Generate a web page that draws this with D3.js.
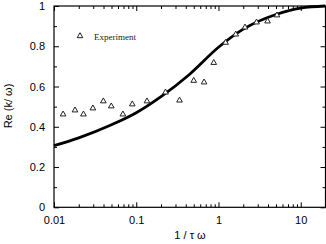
<!DOCTYPE html>
<html>
<head>
<meta charset="utf-8">
<script src="https://cdn.jsdelivr.net/npm/d3@7"></script>
<style>
  body { margin: 0; background: #fff; }
  svg { display: block; }
</style>
</head>
<body>
<svg id="chart" width="326" height="244"></svg>
<script>
// experiment points
const expX = [0.0129, 0.018, 0.0228, 0.0297, 0.0398, 0.0497, 0.0688, 0.0895, 0.135, 0.227,
  0.336, 0.50, 0.668, 0.875, 1.22, 1.62, 2.10, 2.90, 3.95, 5.14];
const expY = [0.462, 0.482, 0.462, 0.492, 0.527, 0.502, 0.462, 0.512, 0.527, 0.571,
  0.531, 0.629, 0.621, 0.718, 0.818, 0.859, 0.894, 0.919, 0.924, 0.954];

// theory curve
const curveX = [0.01, 0.02, 0.05, 0.1, 0.2, 0.443, 1, 2, 5, 10, 20];
const curveY = [0.306, 0.345, 0.41, 0.47, 0.55, 0.66, 0.795, 0.885, 0.958, 0.99, 1.0];

const xMajor = [0.01, 0.1, 1, 10];
const xMajorLabels = ["0.01", "0.1", "1", "10"];
const yMajor = [0, 0.2, 0.4, 0.6, 0.8, 1];
const yMajorLabels = ["0", "0.2", "0.4", "0.6", "0.8", "1"];

const mLeft = 54, mRight = 325.5, mTop = 6, mBottom = 207.3;

const svg = d3.select("#chart");

const x = d3.scaleLog().domain([0.01, 20]).range([mLeft, mRight]);
const y = d3.scaleLinear().domain([0, 1]).range([mBottom, mTop]);

// minor ticks
let xMinor = [];
[0.01, 0.1, 1, 10].forEach(function(d){
  for (let k = 2; k <= 9; k++) { if (d * k <= 20) xMinor.push(d * k); }
});
const yMinor = [0.1, 0.3, 0.5, 0.7, 0.9];

function styleAxis(g){
  g.select(".domain").remove();
  g.selectAll("line").attr("stroke", "#000");
  g.selectAll("text").attr("fill", "#000")
    .style("font-family", "'Liberation Sans', Arial, sans-serif").style("font-size", "11px");
}

// bottom
svg.append("g").attr("transform", "translate(0," + mBottom + ")")
  .call(d3.axisBottom(x).tickValues(xMajor).tickSize(-5).tickPadding(9)
    .tickFormat(function(d, i){ return xMajorLabels[i]; }))
  .call(styleAxis);
svg.append("g").attr("transform", "translate(0," + mBottom + ")")
  .call(d3.axisBottom(x).tickValues(xMinor).tickSize(-3).tickFormat(""))
  .call(styleAxis);
// top
svg.append("g").attr("transform", "translate(0," + mTop + ")")
  .call(d3.axisTop(x).tickValues(xMajor).tickSize(-5).tickFormat(""))
  .call(styleAxis);
svg.append("g").attr("transform", "translate(0," + mTop + ")")
  .call(d3.axisTop(x).tickValues(xMinor).tickSize(-3).tickFormat(""))
  .call(styleAxis);
// left
svg.append("g").attr("transform", "translate(" + mLeft + ",0)")
  .call(d3.axisLeft(y).tickValues(yMajor).tickSize(-5).tickPadding(9)
    .tickFormat(function(d, i){ return yMajorLabels[i]; }))
  .call(styleAxis);
svg.append("g").attr("transform", "translate(" + mLeft + ",0)")
  .call(d3.axisLeft(y).tickValues(yMinor).tickSize(-3).tickFormat(""))
  .call(styleAxis);
// right
svg.append("g").attr("transform", "translate(" + mRight + ",0)")
  .call(d3.axisRight(y).tickValues(yMajor).tickSize(-5).tickFormat(""))
  .call(styleAxis);
svg.append("g").attr("transform", "translate(" + mRight + ",0)")
  .call(d3.axisRight(y).tickValues(yMinor).tickSize(-3).tickFormat(""))
  .call(styleAxis);

// frame
svg.append("rect")
  .attr("x", mLeft).attr("y", mTop)
  .attr("width", mRight - mLeft).attr("height", mBottom - mTop)
  .attr("fill", "none").attr("stroke", "#000").attr("stroke-width", 1.2);

// curve
const line = d3.line()
  .x(function(d){ return x(d[0]); })
  .y(function(d){ return y(d[1]); })
  .curve(d3.curveMonotoneX);
svg.append("path")
  .datum(d3.zip(curveX, curveY))
  .attr("d", line)
  .attr("fill", "none").attr("stroke", "#000").attr("stroke-width", 2.8);

// triangles
const tri = d3.symbol().type(d3.symbolTriangle).size(14);
svg.selectAll(".pt").data(d3.zip(expX, expY)).enter().append("path")
  .attr("class", "pt")
  .attr("d", tri)
  .attr("transform", function(d){ return "translate(" + x(d[0]) + "," + y(d[1]) + ")"; })
  .attr("fill", "#fff").attr("stroke", "#222").attr("stroke-width", 1);

// legend
svg.append("path").attr("d", tri)
  .attr("transform", "translate(80,36)")
  .attr("fill", "#fff").attr("stroke", "#222").attr("stroke-width", 1);
svg.append("text").attr("x", 94).attr("y", 39.5)
  .style("font-family", "'Liberation Serif', 'Times New Roman', serif").style("font-size", "9px")
  .attr("fill", "#222").text("Experiment");

// axis labels
svg.append("text").attr("x", 190).attr("y", 239)
  .attr("text-anchor", "middle")
  .style("font-family", "'Liberation Sans', Arial, sans-serif").style("font-size", "11px")
  .text("1 / \u03c4 \u03c9");
svg.append("text")
  .attr("transform", "translate(12,106) rotate(-90)")
  .attr("text-anchor", "middle")
  .style("font-family", "'Liberation Sans', Arial, sans-serif").style("font-size", "11px")
  .text("Re (k/ \u03c9)");
</script>
</body>
</html>
